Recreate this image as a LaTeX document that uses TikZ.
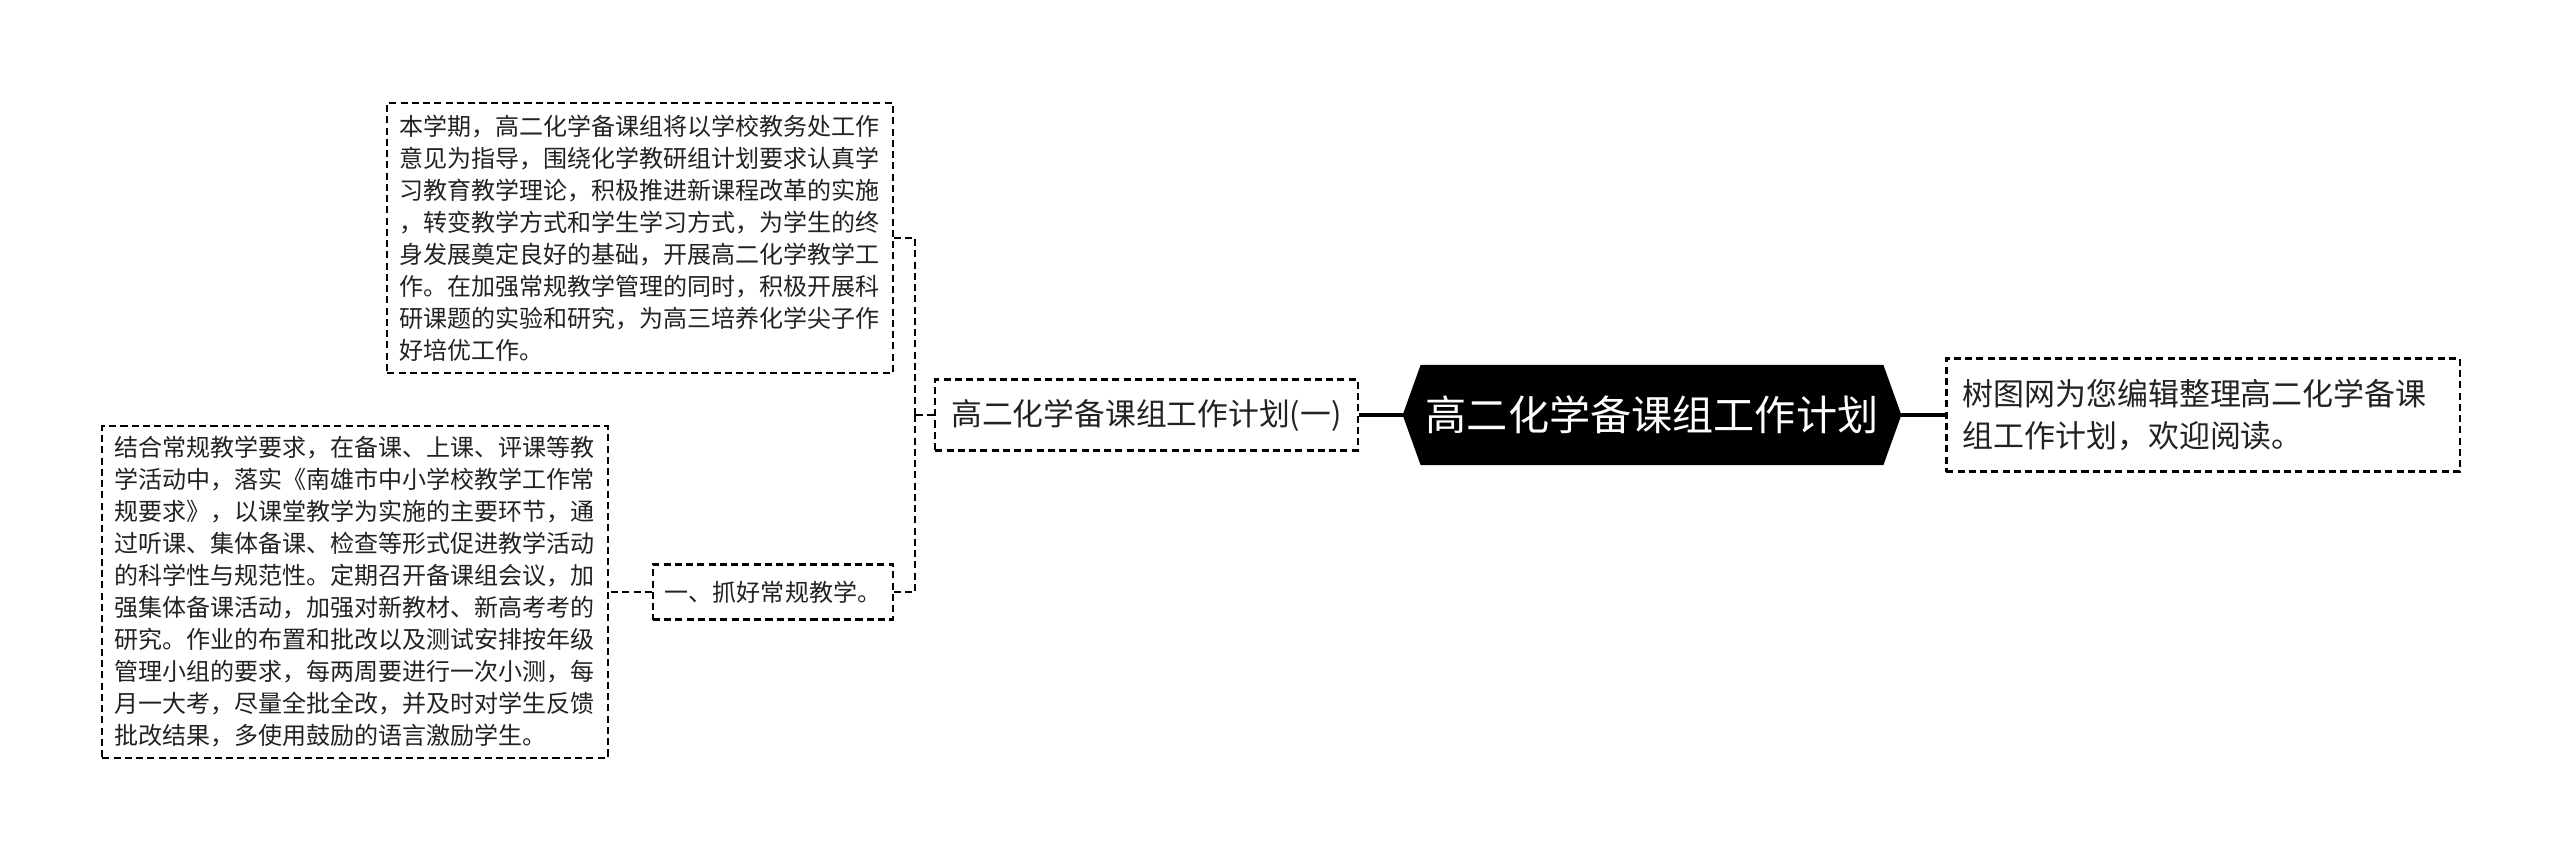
\documentclass[tikz,border=0pt]{standalone}
\usepackage{fontspec}
\setmainfont{Noto Sans CJK SC}
\usetikzlibrary{positioning,backgrounds}
\definecolor{ink}{HTML}{222222}
\tikzset{
  rootnode/.style={rectangle, text=white, minimum width=4.97cm, minimum height=0.99cm,
                   inner sep=0pt, font=\fontsize{11.7}{14}\selectfont},
  topic/.style={rectangle, draw=black, line width=0.6pt, dash pattern=on 2pt off 1.2pt,
                text=ink, inner sep=0pt, align=center},
  leaf/.style={rectangle, draw=black, line width=0.6pt, dash pattern=on 2pt off 1.2pt,
               text=ink, text width=4.81cm, inner xsep=0.12cm, inner ysep=0pt, align=left,
               font=\fontsize{6.83}{9.1}\selectfont},
  trunk/.style={line width=1pt, draw=black},
  twig/.style={line width=0.6pt, dash pattern=on 2pt off 1.2pt, draw=black}
}

\begin{document}
\begin{tikzpicture}[x=0.01cm, y=0.01cm]
\useasboundingbox (0,0) rectangle (2560,-863);

\node[rootnode] (root) at (1652,-415) {高二化学备课组工作计划};
\node[topic, left=0.44cm of root, minimum width=4.22cm, minimum height=0.71cm,
      font=\fontsize{8.75}{11}\selectfont] (plan) {高二化学备课组工作计划(一)};
\node[topic, right=0.44cm of root, minimum width=5.13cm, minimum height=1.13cm,
      text width=4.81cm, inner xsep=0.16cm, align=left,
      font=\fontsize{8.8}{11.7}\selectfont] (intro) {树图网为您编辑整理高二化学备课\\组工作计划，欢迎阅读。};
\coordinate (fork) at (915,-415);
\node[leaf, minimum height=2.70cm] (outline) at (640,-238)
  {本学期，高二化学备课组将以学校教务处工作\\意见为指导，围绕化学教研组计划要求认真学\\习教育教学理论，积极推进新课程改革的实施\\，转变教学方式和学生学习方式，为学生的终\\身发展奠定良好的基础，开展高二化学教学工\\作。在加强常规教学管理的同时，积极开展科\\研课题的实验和研究，为高三培养化学尖子作\\好培优工作。};
\node[topic, minimum width=2.40cm, minimum height=0.55cm,
      font=\fontsize{6.83}{9.1}\selectfont] (teach) at (773,-592) {一、抓好常规教学。};
\node[leaf, minimum height=3.31cm] (detail) at (355,-592)
  {结合常规教学要求，在备课、上课、评课等教\\学活动中，落实《南雄市中小学校教学工作常\\规要求》，以课堂教学为实施的主要环节，通\\过听课、集体备课、检查等形式促进教学活动\\的科学性与规范性。定期召开备课组会议，加\\强集体备课活动，加强对新教材、新高考考的\\研究。作业的布置和批改以及测试安排按年级\\管理小组的要求，每两周要进行一次小测，每\\月一大考，尽量全批全改，并及时对学生反馈\\批改结果，多使用鼓励的语言激励学生。};

% black hexagon behind the title
\begin{scope}[on background layer]
\fill[black] (root.west) -- ([xshift=0.18cm]root.north west) -- ([xshift=-0.18cm]root.north east)
  -- (root.east) -- ([xshift=-0.18cm]root.south east) -- ([xshift=0.18cm]root.south west) -- cycle;
\end{scope}

\draw[trunk] (root) -- (plan);
\draw[trunk] (root) -- (intro);
\draw[twig] (plan) -- (fork);
\draw[twig] (fork) |- (outline);
\draw[twig] (fork) |- (teach);
\draw[twig] (teach) -- (detail);
\end{tikzpicture}
\end{document}
